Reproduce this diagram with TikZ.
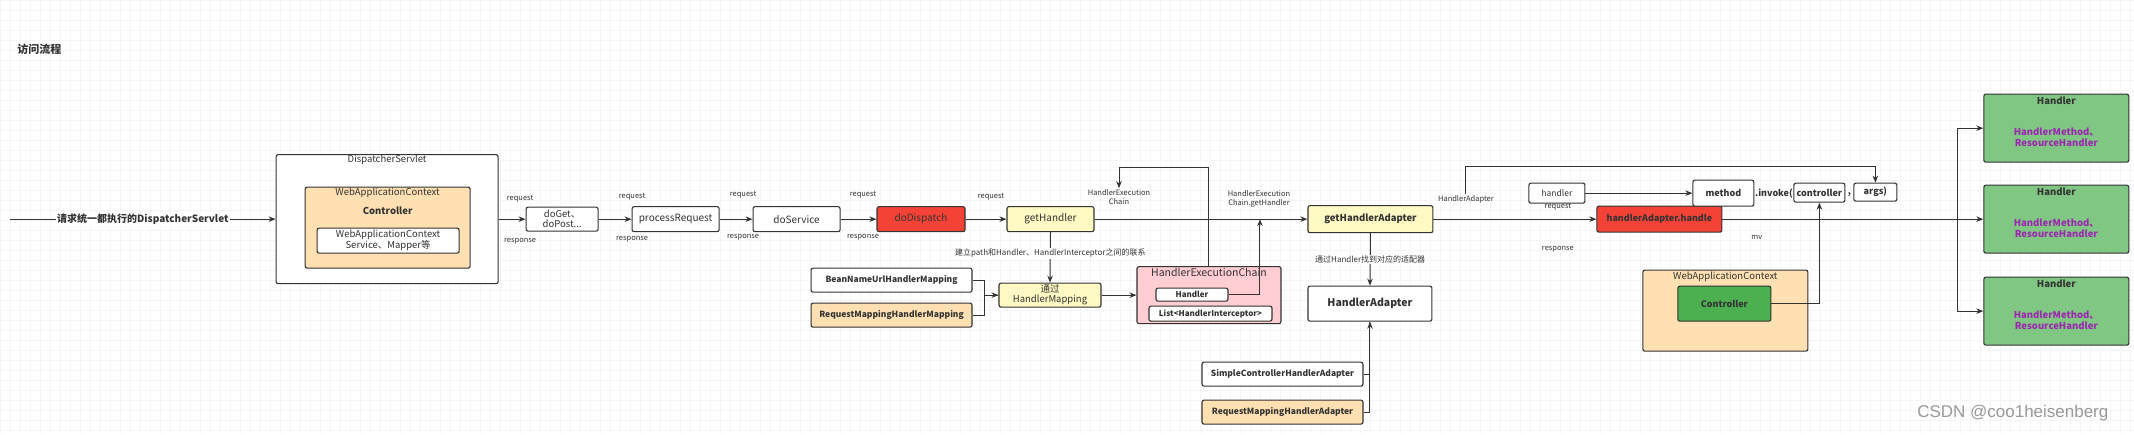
\documentclass[tikz,border=0pt]{standalone}
\usepackage{fontspec}
\setmainfont{Noto Sans CJK SC}
\newfontfamily\markfont{Liberation Sans}
\usepackage{tikz}
\usetikzlibrary{arrows.meta}

\definecolor{linegray}{HTML}{333333}
\definecolor{redbox}{HTML}{F44336}
\definecolor{peach}{HTML}{FFE0B2}
\definecolor{lightyellow}{HTML}{FFF9C4}
\definecolor{pinkbox}{HTML}{FFCDD2}
\definecolor{lightgreen}{HTML}{81C784}
\definecolor{darkgreen}{HTML}{4CAF50}
\definecolor{purpletext}{HTML}{9C27B0}

\begin{document}
\begin{tikzpicture}[x=1pt, y=-1pt, >={Stealth[length=7pt,width=5.5pt]},
	box/.style={draw=linegray, line width=1.1pt, rounded corners=2pt, fill=white, inner sep=1pt,
		align=center, text=linegray, font=\fontsize{10}{11}\selectfont},
	boldbox/.style={box, font=\fontsize{9}{11}\selectfont\bfseries},
	widebox/.style={boldbox, minimum width=161, minimum height=24, font=\fontsize{8.5}{10}\selectfont\bfseries},
	txt/.style={text=linegray, align=center, inner sep=1pt, font=\fontsize{9.5}{11}\selectfont},
	lbl/.style={text=linegray, align=center, inner sep=1pt, font=\fontsize{7.5}{9.5}\selectfont},
	lblw/.style={lbl, fill=white, font=\fontsize{8}{9.5}\selectfont},
	flow/.style={draw=linegray, line width=1pt}]
	% background
	\fill[white] (0,0) rectangle (2134,434);
	\draw[black!4, step=10pt] (0,0) grid (2134,434);
	\useasboundingbox (0,0) rectangle (2134,434);

	\node[txt, font=\fontsize{11}{12}\selectfont\bfseries, anchor=west] (title) at (16,49) {访问流程};

	% DispatcherServlet
	\coordinate (start) at (10,219);
	\node[box, minimum width=222, minimum height=129] (ds) at (387,219) {};
	\node[txt] (dsTitle) at (387,160) {DispatcherServlet};
	\node[box, fill=peach, minimum width=165, minimum height=81] (wac1) at (387.5,227.5) {};
	\node[txt] (wac1Title) at (387.5,193) {WebApplicationContext};
	\node[txt, font=\fontsize{9.5}{11}\selectfont\bfseries] (wac1Ctrl) at (387.5,211) {Controller};
	\node[box, minimum width=142, minimum height=25, font=\fontsize{9.5}{11}\selectfont] (svc) at (388,240.5) {WebApplicationContext\\Service、Mapper等};
	\draw[flow, ->] (start) -- (ds.west) node[midway, fill=white, inner sep=1pt, text=linegray, font=\fontsize{10}{11}\selectfont\bfseries] (entry) {请求统一都执行的DispatcherServlet};

	% main row
	\node[box, minimum width=72, minimum height=24, font=\fontsize{9.5}{10}\selectfont] (doget) at (562,219) {doGet、\\doPost...};
	\node[box, minimum width=87, minimum height=25] (procreq) at (675.5,219) {processRequest};
	\node[box, minimum width=87, minimum height=25] (dosvc) at (796.5,219) {doService};
	\node[box, fill=redbox, minimum width=88, minimum height=25] (dodisp) at (921,219) {doDispatch};
	\node[box, fill=lightyellow, minimum width=87, minimum height=25] (gethdl) at (1050.5,219) {getHandler};
	\node[boldbox, fill=lightyellow, minimum width=125, minimum height=27, font=\fontsize{9.5}{11}\selectfont\bfseries] (gethda) at (1370.5,219) {getHandlerAdapter};
	\node[boldbox, fill=redbox, minimum width=125, minimum height=26] (handle) at (1659.5,219) {handlerAdapter.handle};
	\draw[flow, ->] (ds.east) -- (doget.west);
	\draw[flow, ->] (doget.east) -- (procreq.west);
	\draw[flow, ->] (procreq.east) -- (dosvc.west);
	\draw[flow, ->] (dosvc.east) -- (dodisp.west);
	\draw[flow, ->] (dodisp.east) -- (gethdl.west);
	\draw[flow, ->] (gethdl.east) -- (gethda.west);
	\draw[flow, ->] (gethda.east) -- (handle.west);
	\foreach \x/\a/\b in {520/199/241, 632/197/239, 743/195/237, 863/195/237, 1558/207/249} {
		\node[lbl] (req\x) at (\x,\a) {request};
		\node[lbl] (resp\x) at (\x,\b) {response};
	}
	\node[lbl] (req991) at (991,197) {request};

	% HandlerMapping
	\node[widebox] (bean) at (891.5,280) {BeanNameUrlHandlerMapping};
	\node[widebox, fill=peach] (rmhm) at (891.5,315) {RequestMappingHandlerMapping};
	\node[box, fill=lightyellow, minimum width=102, minimum height=24, font=\fontsize{9.5}{10}\selectfont] (hmap) at (1050,295) {通过\\HandlerMapping};
	\draw[flow, ->] (gethdl.south) -- (hmap.north) node[lblw, pos=0.42] (pathLbl) {建立path和Handler、HandlerInterceptor之间的联系};
	\draw[flow, ->] (bean.east) -- ++(12,0) |- (hmap.west);
	\draw[flow] (rmhm.east) -- ++(12,0) |- (hmap.west);

	% HandlerExecutionChain
	\node[box, fill=pinkbox, minimum width=144, minimum height=57] (hec) at (1209,295) {};
	\node[txt, font=\fontsize{10.5}{11}\selectfont] (hecTitle) at (1209,272) {HandlerExecutionChain};
	\node[boldbox, minimum width=72, minimum height=13, font=\fontsize{8}{9}\selectfont\bfseries] (hecH) at (1192,294.5) {Handler};
	\node[boldbox, minimum width=123, minimum height=15, font=\fontsize{8}{9}\selectfont\bfseries] (hecL) at (1210.5,313.5) {List<HandlerInterceptor>};
	\draw[flow, ->] (hmap.east) -- (hec.west);
	\node[lbl] (hecLbl) at (1119,197) {HandlerExecution\\Chain};
	\draw[flow, ->] (hec.north) -- ++(0,-99) -| (hecLbl.north);
	\node[lbl] (hgLbl) at (1259,199) {HandlerExecution\\Chain.getHandler};
	\coordinate (chainTip) at (1260,219);
	\draw[flow, ->] (hecH.east) -| (chainTip);

	% HandlerAdapter
	\node[boldbox, minimum width=124, minimum height=35, font=\fontsize{10.5}{11}\selectfont\bfseries] (hda) at (1370,303.5) {HandlerAdapter};
	\draw[flow, ->] (gethda.south) -- (hda.north) node[lblw, midway] (adLbl) {通过Handler找到对应的适配器};
	\node[widebox] (sc) at (1282.5,374) {SimpleControllerHandlerAdapter};
	\node[widebox, fill=peach] (rmha) at (1282.5,412) {RequestMappingHandlerAdapter};
	\draw[flow, ->] (sc.east) -| (hda.south);
	\draw[flow] (rmha.east) -| (hda.south);

	% method.invoke(controller, args)
	\node[box, minimum width=56, minimum height=20, font=\fontsize{8.5}{10}\selectfont] (hdl) at (1557,193) {handler};
	\node[boldbox, minimum width=61, minimum height=26] (meth) at (1723.5,193) {method};
	\node[txt, font=\fontsize{9}{11}\selectfont\bfseries] (invk) at (1774,193) {.invoke(};
	\node[boldbox, minimum width=51, minimum height=19, inner sep=0pt] (ctl) at (1819.5,192.5) {controller};
	\node[txt, font=\fontsize{9}{11}\selectfont\bfseries] (comma) at (1849.5,194) {,};
	\node[boldbox, minimum width=43, minimum height=18] (args) at (1875.5,192) {args)};
	\draw[flow, ->] (hdl.east) -- (meth.west);
	\node[lbl] (hdaLbl) at (1466,199) {HandlerAdapter};
	\draw[flow, ->] (hdaLbl.north) -- ++(0,-28) -| (args.north);

	% WebApplicationContext / Controller
	\node[box, fill=peach, minimum width=165, minimum height=81] (wac2) at (1725.5,310.5) {};
	\node[txt] (wac2Title) at (1725.5,277) {WebApplicationContext};
	\node[boldbox, fill=darkgreen, minimum width=93, minimum height=35] (ctrl) at (1724.5,303.5) {Controller};
	\draw[flow, ->] (ctrl.east) -| (ctl.south);
	\node[lbl] (mvLbl) at (1757,237) {mv};

	% Handler
	\foreach \n/\y in {1/128, 2/219, 3/311} {
		\node[box, fill=lightgreen, minimum width=145, minimum height=68] (hd\n) at (2056.5,\y) {};
		\node[txt, font=\fontsize{9.5}{11}\selectfont\bfseries] (hdT\n) at (2056.5,\y-27) {Handler};
		\node[txt, text=purpletext, font=\fontsize{9.5}{11}\selectfont\bfseries] (hdM\n) at (2056.5,\y+9.5) {HandlerMethod、\\ResourceHandler};
	}
	\coordinate (split) at (1958,219);
	\draw[flow, ->] (handle.east) -- (hd2.west);
	\draw[flow, ->] (split) |- (hd1.west);
	\draw[flow, ->] (split) |- (hd3.west);

	\node[text=black!40, font=\markfont\fontsize{17}{18}\selectfont] (mark) at (2013,413) {CSDN @coo1heisenberg};
\end{tikzpicture}
\end{document}
